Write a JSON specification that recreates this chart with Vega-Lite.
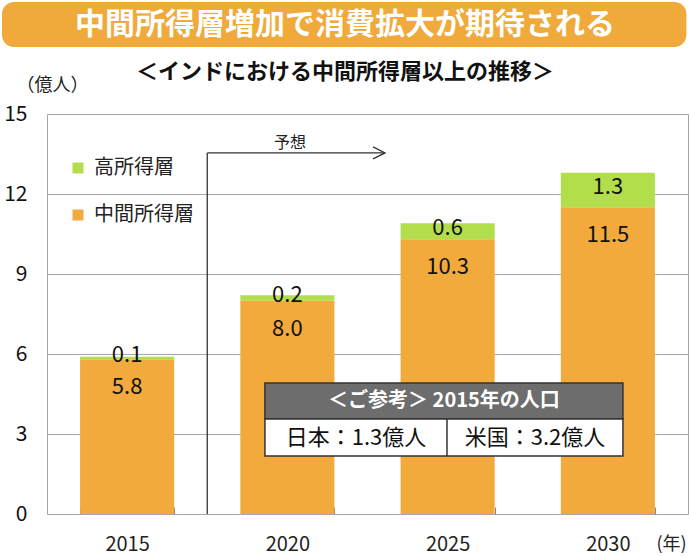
{
  "$schema": "https://vega.github.io/schema/vega-lite/v6.json",
  "autosize": "none",
  "width": 641,
  "height": 400,
  "padding": {"left": 47, "top": 114, "right": 2, "bottom": 42},
  "background": "white",
  "config": {
    "view": {"stroke": "#A6A6A6", "strokeWidth": 1},
    "font": "Noto Sans CJK JP",
    "text": {"font": "Noto Sans CJK JP"}
  },
  "resolve": {"scale": {"x": "independent", "y": "independent"}},
  "layer": [
    {
      "data": {
        "values": [
          {"year": "2015", "category": "中間所得層", "value": 5.8},
          {"year": "2015", "category": "高所得層", "value": 0.1},
          {"year": "2020", "category": "中間所得層", "value": 8.0},
          {"year": "2020", "category": "高所得層", "value": 0.2},
          {"year": "2025", "category": "中間所得層", "value": 10.3},
          {"year": "2025", "category": "高所得層", "value": 0.6},
          {"year": "2030", "category": "中間所得層", "value": 11.5},
          {"year": "2030", "category": "高所得層", "value": 1.3}
        ]
      },
      "layer": [
        {
          "mark": {"type": "bar"},
          "encoding": {
            "x": {
              "field": "year", "type": "nominal",
              "scale": {"paddingInner": 0.413, "paddingOuter": 0.2065},
              "axis": {
                "labelAngle": 0, "title": "(年)",
                "titleX": 624, "titleY": 30, "titleAlign": "center", "titleBaseline": "middle",
                "titleFontSize": 18, "titleFontWeight": "normal", "titleColor": "#222",
                "labelFontSize": 20, "labelColor": "#222", "labelBaseline": "middle",
                "labelPadding": 37, "tickBand": "extent", "tickSize": -7, "tickColor": "#888",
                "domain": false, "grid": false
              }
            },
            "y": {
              "field": "value", "type": "quantitative", "stack": "zero",
              "scale": {"domain": [0, 15], "nice": false},
              "axis": {
                "values": [0, 3, 6, 9, 12, 15],
                "title": "（億人）", "titleAngle": 0, "titleX": 5, "titleY": -29,
                "titleAlign": "center", "titleBaseline": "middle",
                "titleFontSize": 18, "titleFontWeight": "normal", "titleColor": "#222",
                "labelFontSize": 21, "labelColor": "#111", "labelPadding": 20,
                "ticks": false, "domain": false, "grid": true, "gridColor": "#A6A6A6"
              }
            },
            "color": {
              "field": "category", "type": "nominal",
              "scale": {"domain": ["高所得層", "中間所得層"], "range": ["#B3DE4C", "#F1AA3B"]},
              "legend": {
                "orient": "none", "legendX": 21, "legendY": 44, "title": null,
                "symbolType": "square", "symbolSize": 121, "symbolStrokeWidth": 0,
                "labelFontSize": 20, "labelColor": "#222", "rowPadding": 27,
                "labelOffset": 6, "padding": 0
              }
            },
            "order": {"field": "category", "sort": "ascending"}
          }
        },
        {
          "transform": [{"filter": "datum.category === '中間所得層'"}],
          "mark": {"type": "text", "dy": 28, "fontSize": 22, "color": "#111"},
          "encoding": {
            "x": {"field": "year", "type": "nominal"},
            "y": {"field": "value", "type": "quantitative"},
            "text": {"field": "value", "type": "quantitative", "format": ".1f"}
          }
        },
        {
          "mark": {"type": "text", "dy": -3, "fontSize": 22, "color": "#111"},
          "encoding": {
            "x": {"field": "year", "type": "nominal"},
            "y": {"field": "value", "type": "quantitative", "stack": "zero", "bandPosition": 0.5},
            "detail": {"field": "category"},
            "order": {"field": "category", "sort": "ascending"},
            "text": {
              "condition": {"test": "datum.category === '高所得層'", "field": "value", "type": "quantitative", "format": ".1f"},
              "value": ""
            }
          }
        }
      ]
    },
    {
      "data": {"values": [{}]},
      "layer": [
        {
          "mark": {"type": "rect", "fill": "#F0AA3C", "cornerRadius": 12},
          "encoding": {
            "x": {"datum": -0.281, "type": "quantitative", "scale": {"domain": [0, 4], "nice": false, "zero": false}, "axis": null},
            "x2": {"datum": 3.99},
            "y": {"datum": 19.2, "type": "quantitative", "scale": {"domain": [0, 15], "nice": false}, "axis": null},
            "y2": {"datum": 17.51}
          }
        },
        {
          "mark": {"type": "text", "text": "中間所得層増加で消費拡大が期待される", "fontSize": 30, "fontWeight": "bold", "color": "white", "baseline": "middle"},
          "encoding": {
            "x": {"datum": 1.86, "type": "quantitative", "scale": {"domain": [0, 4], "nice": false, "zero": false}, "axis": null},
            "y": {"datum": 18.34, "type": "quantitative", "scale": {"domain": [0, 15], "nice": false}, "axis": null}
          }
        },
        {
          "mark": {"type": "text", "text": "＜インドにおける中間所得層以上の推移＞", "fontSize": 22, "fontWeight": "bold", "color": "#111", "baseline": "middle"},
          "encoding": {
            "x": {"datum": 1.86, "type": "quantitative", "scale": {"domain": [0, 4], "nice": false, "zero": false}, "axis": null},
            "y": {"datum": 16.575, "type": "quantitative", "scale": {"domain": [0, 15], "nice": false}, "axis": null}
          }
        },
        {
          "mark": {"type": "rule", "color": "#333", "strokeWidth": 1.3},
          "encoding": {
            "x": {"datum": 1, "type": "quantitative", "scale": {"domain": [0, 4], "nice": false, "zero": false}, "axis": null},
            "y": {"datum": 0, "type": "quantitative", "scale": {"domain": [0, 15], "nice": false}, "axis": null},
            "y2": {"datum": 13.54}
          }
        },
        {
          "mark": {"type": "rule", "color": "#333", "strokeWidth": 1.3},
          "encoding": {
            "x": {"datum": 1, "type": "quantitative", "scale": {"domain": [0, 4], "nice": false, "zero": false}, "axis": null},
            "x2": {"datum": 2.109},
            "y": {"datum": 13.54, "type": "quantitative", "scale": {"domain": [0, 15], "nice": false}, "axis": null}
          }
        },
        {
          "mark": {"type": "point", "shape": "M-1,-1L1,0L-1,1", "filled": false, "stroke": "#333", "strokeWidth": 1.3, "size": 144, "opacity": 1},
          "encoding": {
            "x": {"datum": 2.072, "type": "quantitative", "scale": {"domain": [0, 4], "nice": false, "zero": false}, "axis": null},
            "y": {"datum": 13.54, "type": "quantitative", "scale": {"domain": [0, 15], "nice": false}, "axis": null}
          }
        },
        {
          "mark": {"type": "text", "text": "予想", "fontSize": 16, "color": "#222", "baseline": "middle"},
          "encoding": {
            "x": {"datum": 1.516, "type": "quantitative", "scale": {"domain": [0, 4], "nice": false, "zero": false}, "axis": null},
            "y": {"datum": 13.91, "type": "quantitative", "scale": {"domain": [0, 15], "nice": false}, "axis": null}
          }
        },
        {
          "mark": {"type": "rect", "fill": "#6D6D6D", "stroke": "#333", "strokeWidth": 1.5},
          "encoding": {
            "x": {"datum": 1.36, "type": "quantitative", "scale": {"domain": [0, 4], "nice": false, "zero": false}, "axis": null},
            "x2": {"datum": 3.594},
            "y": {"datum": 4.912, "type": "quantitative", "scale": {"domain": [0, 15], "nice": false}, "axis": null},
            "y2": {"datum": 3.562}
          }
        },
        {
          "mark": {"type": "rect", "fill": "white", "stroke": "#333", "strokeWidth": 1.5},
          "encoding": {
            "x": {"datum": 1.36, "type": "quantitative", "scale": {"domain": [0, 4], "nice": false, "zero": false}, "axis": null},
            "x2": {"datum": 3.594},
            "y": {"datum": 3.562, "type": "quantitative", "scale": {"domain": [0, 15], "nice": false}, "axis": null},
            "y2": {"datum": 2.175}
          }
        },
        {
          "mark": {"type": "rule", "color": "#333", "strokeWidth": 1.5},
          "encoding": {
            "x": {"datum": 2.496, "type": "quantitative", "scale": {"domain": [0, 4], "nice": false, "zero": false}, "axis": null},
            "y": {"datum": 3.562, "type": "quantitative", "scale": {"domain": [0, 15], "nice": false}, "axis": null},
            "y2": {"datum": 2.175}
          }
        },
        {
          "mark": {"type": "text", "text": "＜ご参考＞ 2015年の人口", "fontSize": 20, "fontWeight": "bold", "color": "white", "baseline": "middle"},
          "encoding": {
            "x": {"datum": 2.477, "type": "quantitative", "scale": {"domain": [0, 4], "nice": false, "zero": false}, "axis": null},
            "y": {"datum": 4.237, "type": "quantitative", "scale": {"domain": [0, 15], "nice": false}, "axis": null}
          }
        },
        {
          "mark": {"type": "text", "text": "日本：1.3億人", "fontSize": 22, "color": "#111", "baseline": "middle"},
          "encoding": {
            "x": {"datum": 1.928, "type": "quantitative", "scale": {"domain": [0, 4], "nice": false, "zero": false}, "axis": null},
            "y": {"datum": 2.85, "type": "quantitative", "scale": {"domain": [0, 15], "nice": false}, "axis": null}
          }
        },
        {
          "mark": {"type": "text", "text": "米国：3.2億人", "fontSize": 22, "color": "#111", "baseline": "middle"},
          "encoding": {
            "x": {"datum": 3.045, "type": "quantitative", "scale": {"domain": [0, 4], "nice": false, "zero": false}, "axis": null},
            "y": {"datum": 2.85, "type": "quantitative", "scale": {"domain": [0, 15], "nice": false}, "axis": null}
          }
        }
      ]
    }
  ]
}
